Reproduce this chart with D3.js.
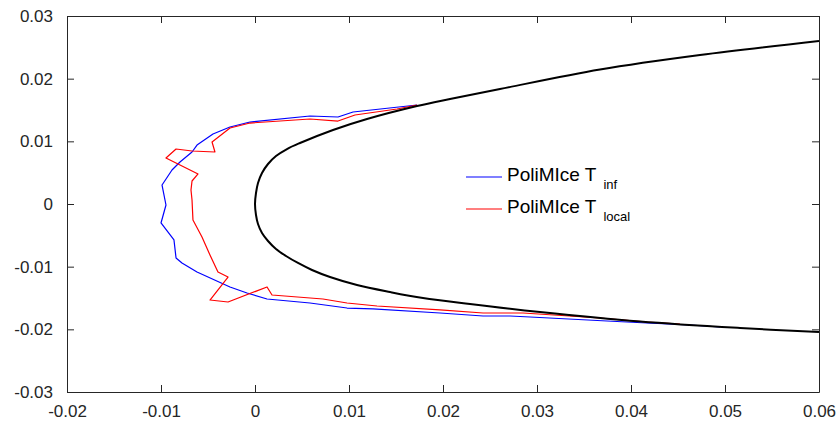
<!DOCTYPE html>
<html>
<head>
<meta charset="utf-8">
<script src="https://cdn.jsdelivr.net/npm/d3@7"></script>
<style>
  html, body { margin: 0; padding: 0; background: #fff; }
  svg { display: block; font-family: "Liberation Sans", Arial, sans-serif; }
</style>
</head>
<body>
<svg id="chart" width="838" height="426"></svg>
<script>
// ---- data ----
const xTicks = [-0.02, -0.01, 0, 0.01, 0.02, 0.03, 0.04, 0.05, 0.06];
const yTicks = [-0.03, -0.02, -0.01, 0, 0.01, 0.02, 0.03];

const airfoilUpper = [
  [0.0, 0.0], [0.000106, 0.001755], [0.000319, 0.003351], [0.000745, 0.004947],
  [0.001383, 0.006383], [0.002234, 0.007659], [0.003404, 0.008776], [0.004787, 0.009734],
  [0.008298, 0.011808], [0.011915, 0.013563], [0.017234, 0.015638], [0.020745, 0.016755],
  [0.026064, 0.01835], [0.036702, 0.021462], [0.04734, 0.023775], [0.06, 0.026009]
];
const airfoilLower = [
  [0.0, 0.0], [0.000106, -0.001755], [0.000319, -0.003191], [0.000745, -0.004627],
  [0.001383, -0.005904], [0.002234, -0.007181], [0.003298, -0.008297], [0.004574, -0.009414],
  [0.006064, -0.010531], [0.007979, -0.011648], [0.010851, -0.012925], [0.014362, -0.014042],
  [0.017872, -0.015], [0.022872, -0.015957], [0.030319, -0.017233], [0.040957, -0.018749],
  [0.051596, -0.019786], [0.06, -0.020424]
];
const tInf = [
  [0.01723, 0.0158], [0.01043, 0.01468], [0.00883, 0.01388], [0.00585, 0.01404],
  [-0.00053, 0.01308], [-0.00266, 0.01229], [-0.00447, 0.01117], [-0.00617, 0.00941],
  [-0.0067, 0.0083], [-0.00798, 0.0067], [-0.00883, 0.00543], [-0.00989, 0.00303],
  [-0.00947, -0.00016], [-0.01, -0.00303], [-0.00862, -0.00574], [-0.0084, -0.00862],
  [-0.00777, -0.00941], [-0.00617, -0.01085], [-0.00266, -0.01324], [-0.00085, -0.0142],
  [0.00128, -0.01516], [0.00585, -0.0158], [0.00979, -0.0166], [0.01255, -0.01675],
  [0.01968, -0.01739], [0.02426, -0.01787], [0.02713, -0.01787], [0.02926, -0.01803],
  [0.03745, -0.01867], [0.0417, -0.01899], [0.04628, -0.01931], [0.04947, -0.01963]
];
const tLocal = [
  [0.01723, 0.0158], [0.01511, 0.01516], [0.01064, 0.0142], [0.00883, 0.01324],
  [0.00585, 0.01356], [-0.00053, 0.01292], [-0.00266, 0.01213], [-0.00457, 0.00989],
  [-0.00426, 0.0083], [-0.0067, 0.00846], [-0.0084, 0.00878], [-0.00947, 0.00734],
  [-0.00606, 0.00479], [-0.0067, 0.00367], [-0.00681, 0.00223], [-0.0067, 0.00064],
  [-0.0066, -0.00255], [-0.00564, -0.00527], [-0.00479, -0.00814], [-0.00394, -0.01085],
  [-0.00287, -0.01165], [-0.00479, -0.01532], [-0.00287, -0.01564], [0.00128, -0.01324],
  [0.00181, -0.01452], [0.00723, -0.01516], [0.00979, -0.0158], [0.01298, -0.01628],
  [0.01968, -0.01691], [0.02426, -0.01739], [0.02851, -0.01739], [0.0367, -0.01819],
  [0.0417, -0.01883], [0.04521, -0.01915]
];
const legendLabels = [
  { main: "PoliMIce T", sub: "inf", color: "#0000ff" },
  { main: "PoliMIce T", sub: "local", color: "#ff0000" }
];

// ---- layout ----
const svg = d3.select("#chart");
const L = 67, R = 819, T = 16, B = 392;
const x = d3.scaleLinear().domain([-0.02, 0.06]).range([L, R]);
const y = d3.scaleLinear().domain([-0.03, 0.03]).range([B, T]);
const fmt = d => (Math.abs(d) < 1e-12 ? "0" : d.toFixed(2));
const axisColor = "#262626";
const tickLen = 7;

// axes with inward ticks
const gx = svg.append("g").attr("transform", `translate(0,${B})`)
  .call(d3.axisBottom(x).tickValues(xTicks).tickFormat(fmt).tickSizeInner(-tickLen).tickSizeOuter(0).tickPadding(13));
const gxTop = svg.append("g").attr("transform", `translate(0,${T})`)
  .call(d3.axisTop(x).tickValues(xTicks).tickFormat("").tickSizeInner(-tickLen).tickSizeOuter(0));
const gy = svg.append("g").attr("transform", `translate(${L},0)`)
  .call(d3.axisLeft(y).tickValues(yTicks).tickFormat(fmt).tickSizeInner(-tickLen).tickSizeOuter(0).tickPadding(14));
const gyR = svg.append("g").attr("transform", `translate(${R},0)`)
  .call(d3.axisRight(y).tickValues(yTicks).tickFormat("").tickSizeInner(-tickLen).tickSizeOuter(0));

[gx, gxTop, gy, gyR].forEach(g => {
  g.select(".domain").attr("stroke", axisColor).attr("stroke-width", 1);
  g.selectAll(".tick line").attr("stroke", axisColor).attr("stroke-width", 1);
  g.selectAll(".tick text").attr("fill", "#262626").style("font-size", "17px")
    .style("font-family", "'Liberation Sans', Arial, sans-serif");
});

// clip
svg.append("clipPath").attr("id", "clip").append("rect")
  .attr("x", L).attr("y", T).attr("width", R - L).attr("height", B - T);

const line = d3.line().x(d => x(d[0])).y(d => y(d[1])).curve(d3.curveLinear);
const smooth = d3.line().x(d => x(d[0])).y(d => y(d[1])).curve(d3.curveCatmullRom);
const plot = svg.append("g").attr("clip-path", "url(#clip)");

plot.append("path").datum(tInf).attr("d", line)
  .attr("fill", "none").attr("stroke", "#0000ff").attr("stroke-width", 1.2).attr("stroke-linejoin", "round");
plot.append("path").datum(tLocal).attr("d", line)
  .attr("fill", "none").attr("stroke", "#ff0000").attr("stroke-width", 1.2).attr("stroke-linejoin", "round");

const airfoil = airfoilUpper.slice().reverse().concat(airfoilLower.slice(1));
plot.append("path").datum(airfoil).attr("d", smooth)
  .attr("fill", "none").attr("stroke", "#000").attr("stroke-width", 2);

// legend
const lg = svg.append("g");
const legendRows = [177, 209];
legendLabels.forEach((d, i) => {
  const yy = legendRows[i];
  lg.append("line").attr("x1", 466).attr("x2", 502).attr("y1", yy).attr("y2", yy)
    .attr("stroke", d.color).attr("stroke-width", 1.2);
  const t = lg.append("text").attr("x", 507).attr("y", yy + 4)
    .style("font-size", "19px").attr("fill", "#000");
  t.append("tspan").text(d.main);
  t.append("tspan").attr("dx", 7).attr("dy", 8).style("font-size", "13px").text(d.sub);
});
</script>
</body>
</html>
